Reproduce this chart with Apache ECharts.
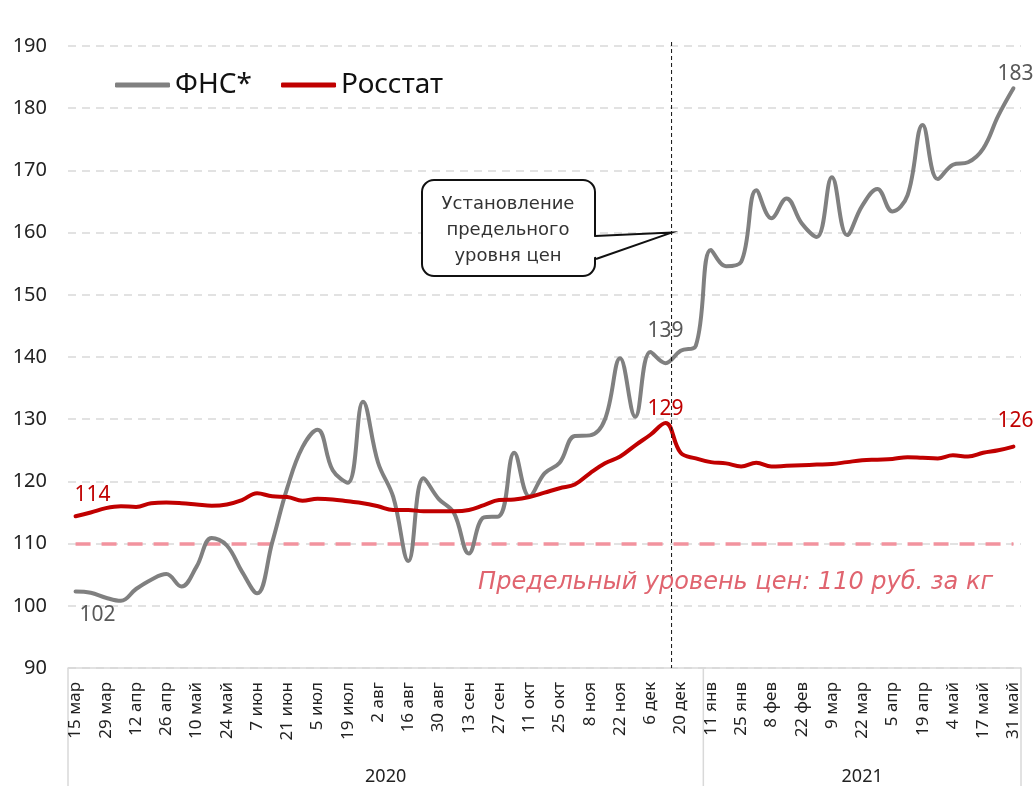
<!DOCTYPE html>
<html>
<head>
<meta charset="utf-8">
<script src="https://cdn.jsdelivr.net/npm/echarts@6/dist/echarts.min.js"></script>
<style>
  html, body { margin: 0; padding: 0; background: #fff; }
  #chart { width: 1034px; height: 786px; }
</style>
</head>
<body>
<div id="chart"></div>
<script>
// weekly observations, 15 Mar 2020 - 31 May 2021
const categories = [
  '15 мар', '22 мар', '29 мар', '5 апр', '12 апр', '19 апр', '26 апр', '3 май', '10 май', '17 май',
  '24 май', '31 май', '7 июн', '14 июн', '21 июн', '28 июн', '5 июл', '12 июл', '19 июл', '26 июл',
  '2 авг', '9 авг', '16 авг', '23 авг', '30 авг', '6 сен', '13 сен', '20 сен', '27 сен', '4 окт',
  '11 окт', '18 окт', '25 окт', '1 ноя', '8 ноя', '15 ноя', '22 ноя', '29 ноя', '6 дек', '13 дек',
  '20 дек', '27 дек', '11 янв', '18 янв', '25 янв', '1 фев', '8 фев', '15 фев', '22 фев', '1 мар',
  '9 мар', '15 мар', '22 мар', '29 мар', '5 апр', '12 апр', '19 апр', '26 апр', '4 май', '10 май',
  '17 май', '24 май', '31 май'
];

const fnsValues = [
  102.3, 102.1, 101.3, 100.8, 102.7, 104.2, 105.1, 103.1, 106.3, 110.9,
  109.7, 105.5, 102.0, 110.2, 119.0, 125.5, 128.3, 121.8, 119.8, 132.8,
  123.0, 117.5, 107.2, 120.5, 117.2, 115.0, 108.4, 114.2, 114.4, 124.6,
  117.6, 121.3, 123.0, 127.3, 127.4, 130.0, 139.8, 130.4, 140.8, 139.0,
  141.0, 141.8, 157.2, 154.6, 155.3, 166.8, 162.3, 165.5, 161.5, 159.3,
  168.9, 159.6, 164.3, 167.0, 163.4, 166.0, 177.3, 168.6, 170.9, 171.3,
  173.5, 178.8, 183.2
];

const rosstatValues = [
  114.4, 115.0, 115.7, 116.0, 115.9, 116.5, 116.6, 116.5, 116.3, 116.1,
  116.3, 117.0, 118.1, 117.6, 117.5, 116.9, 117.2, 117.1, 116.8, 116.5,
  116.0, 115.4, 115.4, 115.2, 115.2, 115.2, 115.4, 116.2, 117.0, 117.1,
  117.5, 118.2, 118.9, 119.5, 121.3, 122.9, 124.0, 125.8, 127.5, 129.4,
  124.6, 123.7, 123.1, 122.9, 122.4, 123.0, 122.4, 122.5, 122.6, 122.7,
  122.8, 123.1, 123.4, 123.5, 123.6, 123.9, 123.8, 123.7, 124.2, 124.0,
  124.6, 125.0, 125.6
];

const yearLabels = ['2020', '2021'];
const yearFirstIndex = [0, 42];
const limitValue = 110;
const policyIndex = 39.4; // между 13 и 20 дек
const calloutLines = ['Установление', 'предельного', 'уровня цен'];

const GREY = '#808080';
const RED = '#C00000';
const FONT = 'Noto Sans';

const chart = echarts.init(document.getElementById('chart'));

// подписи только у отдельных точек
const fnsLabels = {
  0: { position: 'bottom', distance: 13, offset: [22, 0] },
  39: { position: 'top', distance: 21 },
  62: { position: 'top', distance: 3, offset: [2, 0] }
};
const rosstatLabels = {
  0: { position: 'top', distance: 10, offset: [17, 0] },
  39: { position: 'top', distance: 3 },
  62: { position: 'top', distance: 15, offset: [2, 0] }
};

function withLabels(values, labels, color) {
  return values.map((v, i) => labels[i]
    ? { value: v, label: Object.assign({ show: true, color: color, fontSize: 21, fontFamily: FONT,
        formatter: p => Math.round(p.value) }, labels[i]) }
    : v);
}

const option = {
  animation: false,
  textStyle: { fontFamily: FONT },
  grid: { left: 68, right: 13, top: 46, bottom: 118 },
  legend: {
    left: 115,
    top: 70,
    padding: 0,
    itemGap: 29,
    itemWidth: 55,
    itemHeight: 5,
    icon: 'roundRect',
    textStyle: { fontSize: 28, color: '#111', fontFamily: FONT, lineHeight: 30 },
    data: ['ФНС*', 'Росстат']
  },
  xAxis: {
    type: 'category',
    data: categories,
    boundaryGap: true,
    axisLine: { lineStyle: { color: '#D9D9D9', width: 1.5 } },
    axisTick: { show: false },
    axisLabel: {
      interval: 1,
      rotate: 90,
      margin: 14,
      fontSize: 17,
      color: '#222',
      fontFamily: FONT
    }
  },
  yAxis: {
    type: 'value',
    min: 90,
    max: 190,
    interval: 10,
    axisLine: { show: false },
    axisTick: { show: false },
    axisLabel: { fontSize: 20, color: '#222', margin: 21, fontFamily: FONT },
    splitLine: { lineStyle: { color: '#D9D9D9', width: 1.5, type: [8, 6] } }
  },
  series: [
    {
      name: 'ФНС*',
      type: 'line',
      smooth: 0.4,
      symbol: 'circle',
      symbolSize: 1,
      showSymbol: true,
      data: withLabels(fnsValues, fnsLabels, '#595959'),
      lineStyle: { color: GREY, width: 4, cap: 'round' },
      itemStyle: { color: GREY },
      z: 3
    },
    {
      name: 'Росстат',
      type: 'line',
      smooth: 0.4,
      symbol: 'circle',
      symbolSize: 1,
      showSymbol: true,
      data: withLabels(rosstatValues, rosstatLabels, RED),
      lineStyle: { color: RED, width: 4, cap: 'round' },
      itemStyle: { color: RED },
      z: 4,
      markLine: {
        silent: true,
        symbol: 'none',
        z: 1,
        label: { show: false },
        lineStyle: { color: '#F2939E', width: 3.5, type: [15, 11], opacity: 1 },
        data: [[{ coord: [0, limitValue] }, { coord: [categories.length - 1, limitValue] }]]
      }
    }
  ]
};

chart.setOption(option);

// аннотации: вертикальная линия, выноска, годы
const px = i => chart.convertToPixel({ xAxisIndex: 0 }, i);
const step = px(1) - px(0);
const right = px(categories.length - 1) + step / 2;
const yBase = chart.convertToPixel({ yAxisIndex: 0 }, 90);
const lineX = px(Math.floor(policyIndex)) + (policyIndex - Math.floor(policyIndex)) * step;
const tipY = chart.convertToPixel({ yAxisIndex: 0 }, 160);

const bounds = yearFirstIndex.map(i => px(i) - step / 2).concat([right]);
const graphics = [];

bounds.forEach(x => {
  graphics.push({
    type: 'line', silent: true,
    shape: { x1: x, y1: yBase, x2: x, y2: 786 },
    style: { stroke: '#D9D9D9', lineWidth: 1.5 }
  });
});
yearLabels.forEach((t, k) => {
  graphics.push({
    type: 'text', silent: true,
    x: (bounds[k] + bounds[k + 1]) / 2, y: 777,
    style: { text: t, fill: '#222', font: '18px "Noto Sans"', textAlign: 'center', textVerticalAlign: 'middle' }
  });
});

graphics.push({
  type: 'line', silent: true, z: 10,
  shape: { x1: lineX, y1: 42, x2: lineX, y2: yBase },
  style: { stroke: '#111', lineWidth: 1, lineDash: [4, 3] }
});

// выноска: скруглённый прямоугольник + хвост
graphics.push({
  type: 'rect', silent: true, z: 11,
  shape: { x: 422, y: 180, width: 173, height: 96, r: 12 },
  style: { fill: '#fff', stroke: '#111', lineWidth: 2 }
});
graphics.push({
  type: 'polygon', silent: true, z: 12,
  shape: { points: [[592, 237], [lineX, tipY], [592, 258]] },
  style: { fill: '#fff' }
});
graphics.push({
  type: 'polyline', silent: true, z: 13,
  shape: { points: [[595, 236], [lineX, tipY], [596, 259]] },
  style: { stroke: '#111', lineWidth: 2, lineJoin: 'miter' }
});
calloutLines.forEach((t, k) => {
  graphics.push({
    type: 'text', silent: true, z: 14,
    x: 508, y: 204 + k * 26,
    style: { text: t, fill: '#333', font: '18px "DejaVu Sans"', textAlign: 'center', textVerticalAlign: 'middle' }
  });
});

graphics.push({
  type: 'text', silent: true, z: 12,
  x: 993, y: 583,
  style: {
    text: 'Предельный уровень цен: 110 руб. за кг',
    fill: '#E0646F',
    font: 'italic 24px "DejaVu Sans"',
    textAlign: 'right',
    textVerticalAlign: 'middle'
  }
});

chart.setOption({ graphic: graphics });
</script>
</body>
</html>
